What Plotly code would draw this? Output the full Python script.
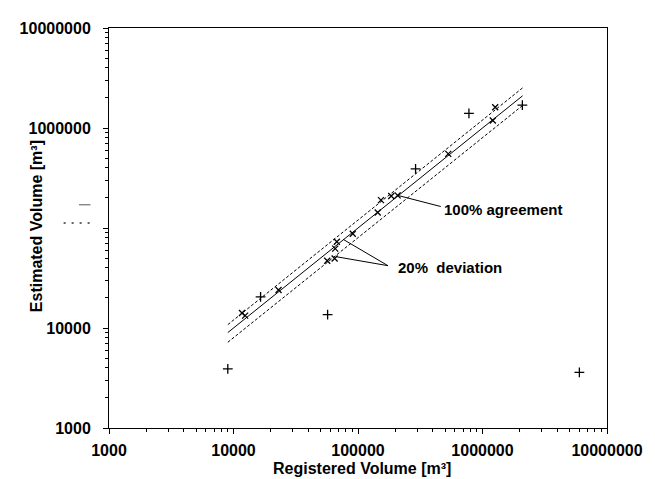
import numpy as np
import plotly.graph_objects as go

# ---- data ----
plus_x = [9000, 16500, 57000, 290000, 778000, 2090000, 6000000]
plus_y = [3900, 20500, 13600, 390000, 1400000, 1690000, 3600]

cross_x = [11700, 12400, 23000, 56600, 64900, 65600, 67600, 90800, 144000,
           153000, 185000, 208000, 531000, 1210000, 1265000]
cross_y = [14100, 13300, 24000, 47000, 49500, 62200, 73000, 87500, 143000,
           190000, 209000, 212000, 551000, 1190000, 1610000]

line_x = [9000, 2100000]
agree_y = [9000, 2100000]
upper_y = [10800, 2520000]
lower_y = [7200, 1680000]

lead_agree_x = [208000, 462000]
lead_agree_y = [212000, 164000]
lead_dev_x = [76000, 174000, 67600]
lead_dev_y = [77000, 42000, 51500]

tick_vals = [1000, 10000, 100000, 1000000, 10000000]
x_tick_text = ["1000", "10000", "100000", "1000000", "10000000"]
y_tick_text = ["1000", "10000", "", "1000000", "10000000"]

FONT = "Liberation Sans, Arial, sans-serif"
minor_vals = [m * 10 ** e for e in range(3, 7) for m in range(2, 10)]

fig = go.Figure()
fig.add_trace(go.Scatter(x=line_x, y=upper_y, mode="lines",
                         line=dict(color="black", width=1, dash="3px,2px")))
fig.add_trace(go.Scatter(x=line_x, y=agree_y, mode="lines",
                         line=dict(color="black", width=1)))
fig.add_trace(go.Scatter(x=line_x, y=lower_y, mode="lines",
                         line=dict(color="black", width=1, dash="3px,2px")))
fig.add_trace(go.Scatter(x=lead_agree_x, y=lead_agree_y, mode="lines",
                         line=dict(color="black", width=1)))
fig.add_trace(go.Scatter(x=lead_dev_x, y=lead_dev_y, mode="lines",
                         line=dict(color="black", width=1)))
fig.add_trace(go.Scatter(x=plus_x, y=plus_y, mode="markers",
                         marker=dict(symbol="cross-thin", size=7,
                                     line=dict(color="black", width=1.3))))
fig.add_trace(go.Scatter(x=cross_x, y=cross_y, mode="markers",
                         marker=dict(symbol="x-thin", size=6,
                                     line=dict(color="black", width=1.3))))

axis_common = dict(
    type="log", range=[3, 7], showgrid=False, zeroline=False,
    showline=True, linecolor="black", linewidth=1, mirror=True,
    ticks="outside", ticklen=5, tickcolor="black", tickwidth=1,
    tickvals=tick_vals,
    tickfont=dict(family=FONT, size=16, color="black", weight="bold"),
    minor=dict(tickvals=minor_vals, ticks="outside", ticklen=3,
               tickcolor="black", showgrid=False),
)

# the page body adds an 8px offset; the figure is sized to fill 655x479 with it
fig.update_layout(
    width=647, height=471,
    margin=dict(l=91, r=37, t=15, b=51),
    plot_bgcolor="white", paper_bgcolor="white",
    showlegend=False,
    xaxis=dict(axis_common, ticktext=x_tick_text, ticklabelstandoff=3),
    yaxis=dict(axis_common, ticktext=y_tick_text, ticklabelstandoff=9),
    annotations=[
        dict(text="100% agreement", x=5.678, y=5.182, xref="x", yref="y",
             xanchor="left", yanchor="middle", showarrow=False,
             font=dict(family=FONT, size=15, color="black", weight="bold")),
        dict(text="20%&nbsp;&nbsp;deviation", x=5.305, y=4.606, xref="x", yref="y",
             xanchor="left", yanchor="middle", showarrow=False,
             font=dict(family=FONT, size=15, color="black", weight="bold")),
        dict(text="Registered Volume [m³]", x=0.508, y=-0.102, xref="paper",
             yref="paper", xanchor="center", yanchor="middle", showarrow=False,
             font=dict(family=FONT, size=16, color="black", weight="bold")),
        dict(text="Estimated Volume [m³]", x=-0.145, y=0.504, xref="paper",
             yref="paper", xanchor="center", yanchor="middle", showarrow=False,
             textangle=-90,
             font=dict(family=FONT, size=16, color="black", weight="bold")),
    ],
    shapes=[
        dict(type="line", xref="paper", yref="paper", x0=-0.0603, x1=-0.0372,
             y0=0.558, y1=0.558, line=dict(color="#555", width=1)),
        dict(type="line", xref="paper", yref="paper", x0=-0.0911, x1=-0.0333,
             y0=0.5128, y1=0.5128, line=dict(color="#333", width=1.5, dash="2px,6px")),
    ],
)

fig.write_html("out.html")
